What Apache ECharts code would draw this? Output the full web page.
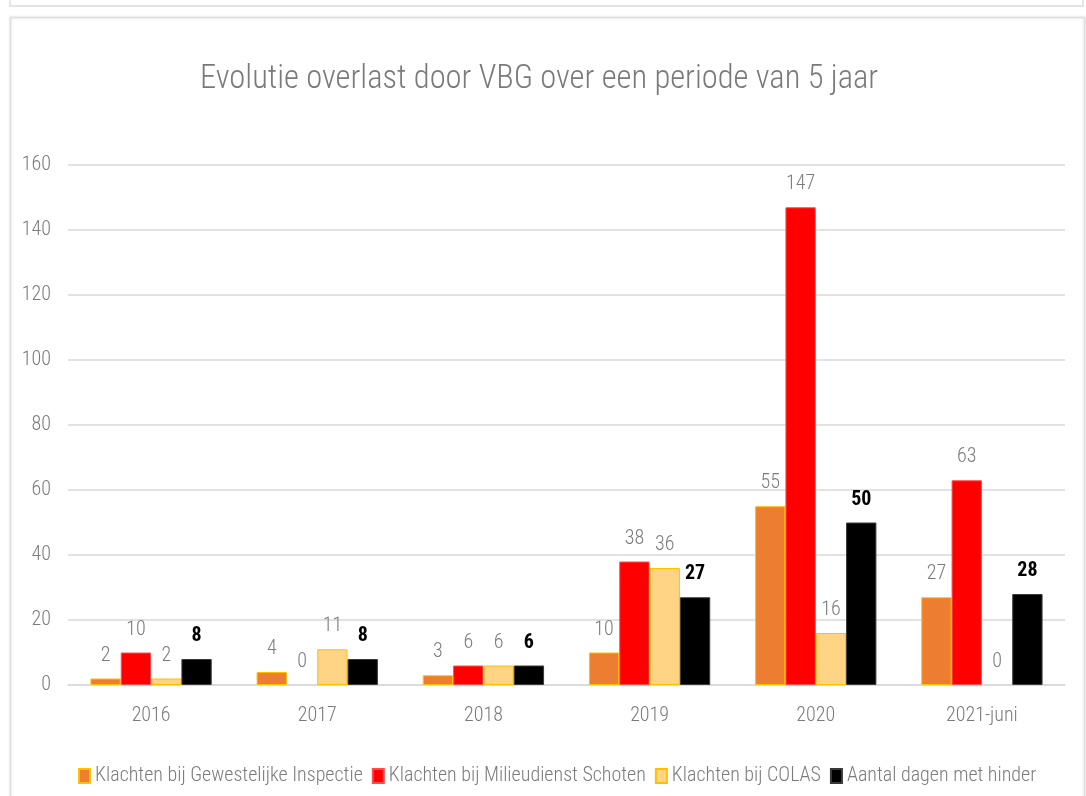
<!DOCTYPE html>
<html>
<head>
<meta charset="utf-8">
<script src="https://cdn.jsdelivr.net/npm/echarts@6/dist/echarts.min.js"></script>
<style>
html,body{margin:0;padding:0;background:#fff;}
#chart{width:1086px;height:796px;}
</style>
</head>
<body>
<div id="chart"></div>
<script>
const categories = ['2016', '2017', '2018', '2019', '2020', '2021-juni'];
const seriesNames = ['Klachten bij Gewestelijke Inspectie', 'Klachten bij Milieudienst Schoten', 'Klachten bij COLAS', 'Aantal dagen met hinder'];
const gewestelijkeInspectie = [2, 4, 3, 10, 55, 27];
const milieudienstSchoten = [10, 0, 6, 38, 147, 63];
const colas = [2, 11, 6, 36, 16, 0];
const dagenHinder = [8, 8, 6, 27, 50, 28];
const titleText = 'Evolutie overlast door VBG over een periode van 5 jaar';

const FONT = "'Roboto Condensed', 'Liberation Sans Narrow', sans-serif";
const GREY = '#7b7b7b';

const chart = echarts.init(document.getElementById('chart'), null, {renderer: 'canvas'});

function barSeries(name, data, fill, border, bold) {
  return {
    name: name,
    type: 'bar',
    data: data.map(v => v === 0 ? {value: v, itemStyle: {borderWidth: 0}} : v),
    barGap: '0%',
    barCategoryGap: '27%',
    itemStyle: {color: fill, borderColor: border, borderWidth: 1},
    label: {
      show: true,
      position: 'top',
      distance: 13,
      fontFamily: FONT,
      fontSize: 20,
      color: bold ? '#000' : GREY,
      fontWeight: bold ? 'bold' : 300
    }
  };
}

chart.setOption({
  animation: false,
  backgroundColor: '#fff',
  graphic: [
    {type: 'rect', shape: {x: 10, y: -10, width: 1073, height: 16}, style: {fill: '#fff', stroke: '#dcdcdc', lineWidth: 1.5}, z: -10},
    {type: 'rect', shape: {x: 10.5, y: 17.5, width: 1074, height: 800}, style: {fill: '#fff', stroke: '#dedede', lineWidth: 1.5, shadowColor: 'rgba(0,0,0,0.12)', shadowBlur: 3}, z: -10}
  ],
  title: {
    text: titleText,
    left: 195,
    top: 58,
    textStyle: {fontFamily: FONT, fontSize: 32.5, fontWeight: 300, color: '#7a7a7a'}
  },
  legend: {
    data: seriesNames,
    left: 73,
    top: 761,
    itemWidth: 11,
    itemHeight: 14,
    itemGap: 9,
    icon: 'rect',
    textStyle: {fontFamily: FONT, fontSize: 20, fontWeight: 300, color: GREY}
  },
  grid: {left: 68, right: 21, top: 165, bottom: 111, containLabel: false},
  xAxis: {
    type: 'category',
    data: categories,
    axisLine: {show: true, lineStyle: {color: '#d9d9d9', width: 1.5}},
    axisTick: {show: false},
    axisLabel: {fontFamily: FONT, fontSize: 20, fontWeight: 300, color: GREY, margin: 21}
  },
  yAxis: {
    type: 'value',
    min: 0,
    max: 160,
    interval: 20,
    axisLine: {show: false},
    axisTick: {show: false},
    splitLine: {lineStyle: {color: '#d9d9d9', width: 1.5}},
    axisLabel: {fontFamily: FONT, fontSize: 20, fontWeight: 300, color: GREY, margin: 17}
  },
  series: [
    barSeries(seriesNames[0], gewestelijkeInspectie, '#ED7D31', '#FFC000', false),
    barSeries(seriesNames[1], milieudienstSchoten, '#FF0000', '#FF4D4D', false),
    barSeries(seriesNames[2], colas, '#FFD485', '#FFC000', false),
    barSeries(seriesNames[3], dagenHinder, '#000000', '#3a3a3a', true)
  ]
});
</script>
</body>
</html>
